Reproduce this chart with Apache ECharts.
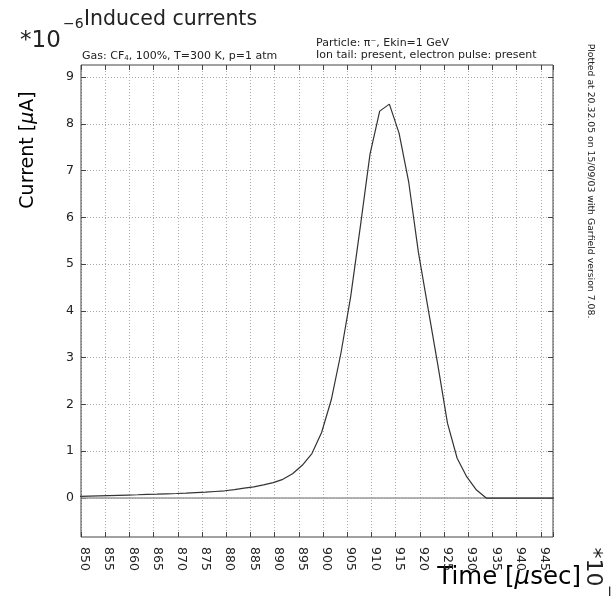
<!DOCTYPE html>
<html>
<head>
<meta charset="utf-8">
<script src="https://cdn.jsdelivr.net/npm/echarts@6/dist/echarts.min.js"></script>
<style>
html,body{margin:0;padding:0;background:#fff;}
#chart{width:616px;height:598px;}
</style>
</head>
<body>
<div id="chart"></div>
<script>
// ---- data ----
const timeValues = [849,851,853,855,857,859,861,863,865,867,869,871,873,875,877,879,881,883,885,887,889,891,893,895,897,899,901,903,905,907,909,911,913,915,917,919,921,923,925,927,929,931,933,935,937,939,941,943,945,947];
const currentValues = [0.033,0.04,0.046,0.052,0.058,0.064,0.07,0.077,0.083,0.09,0.097,0.105,0.115,0.125,0.14,0.155,0.18,0.21,0.24,0.28,0.33,0.4,0.52,0.7,0.95,1.4,2.1,3.1,4.3,5.8,7.35,8.27,8.42,7.8,6.75,5.25,4.05,2.85,1.6,0.85,0.45,0.17,0,0,0,0,0,0,0,0];
const xTickLabels = [850,855,860,865,870,875,880,885,890,895,900,905,910,915,920,925,930,935,940,945];
const yTickLabels = [0,1,2,3,4,5,6,7,8,9];

// ---- layout ----
const FONT = 'DejaVu Sans';
const XMIN = 849.3, XMAX = 946.8;
const YMIN = -0.833, YMAX = 9.256;
const frame = {left: 81, top: 65, width: 472, height: 472};
const pxPerX = frame.width / (XMAX - XMIN);
const pxPerY = frame.height / (YMAX - YMIN);

const points = timeValues.map((t, i) => [t, currentValues[i]]);

const chart = echarts.init(document.getElementById('chart'), null, {renderer: 'canvas'});

const tickStyle = {color: '#444', width: 1};
const dotted = {color: '#a8a8a8', width: 1, type: [1, 2]};

const option = {
  animation: false,
  backgroundColor: '#fff',
  grid: [
    {left: frame.left, top: frame.top, width: frame.width, height: frame.height, show: true, borderColor: '#444', borderWidth: 1, backgroundColor: 'transparent', z: 5},
    {left: frame.left, top: frame.top + (YMAX - yTickLabels[yTickLabels.length-1]) * pxPerY, width: frame.width,
     height: (yTickLabels[yTickLabels.length-1] - yTickLabels[0]) * pxPerY},
    {left: frame.left + (xTickLabels[0] - XMIN) * pxPerX, top: frame.top,
     width: (xTickLabels[xTickLabels.length-1] - xTickLabels[0]) * pxPerX, height: frame.height}
  ],
  xAxis: [
    {gridIndex: 0, type: 'value', min: XMIN, max: XMAX, show: false},
    {gridIndex: 0, type: 'value', position: 'bottom', min: 845, max: 845 + (XMAX - XMIN), interval: 5,
     axisLine: {show: false}, axisTick: {show: true, inside: true, length: 5, lineStyle: tickStyle},
     axisLabel: {show: false}, splitLine: {show: true, lineStyle: dotted}},
    {gridIndex: 0, type: 'value', position: 'top', min: 845, max: 845 + (XMAX - XMIN), interval: 5,
     axisLine: {show: false}, axisTick: {show: true, inside: true, length: 5, lineStyle: tickStyle},
     axisLabel: {show: false}, splitLine: {show: false}},
    {gridIndex: 2, type: 'value', position: 'bottom', min: xTickLabels[0], max: xTickLabels[xTickLabels.length-1], interval: 5,
     axisLine: {show: false}, axisTick: {show: false}, splitLine: {show: false},
     axisLabel: {show: true, rotate: -90, margin: 10, fontSize: 12.5, fontFamily: FONT, color: '#222'}},
    {gridIndex: 1, type: 'value', min: 0, max: 1, show: false}
  ],
  yAxis: [
    {gridIndex: 0, type: 'value', min: YMIN, max: YMAX, show: false},
    {gridIndex: 1, type: 'value', position: 'left', min: yTickLabels[0], max: yTickLabels[yTickLabels.length-1], interval: 1,
     axisLine: {show: false}, axisTick: {show: true, inside: true, length: 5, lineStyle: tickStyle},
     axisLabel: {show: true, margin: 7, fontSize: 12.5, fontFamily: FONT, color: '#222'},
     splitLine: {show: true, lineStyle: dotted}},
    {gridIndex: 1, type: 'value', position: 'right', min: yTickLabels[0], max: yTickLabels[yTickLabels.length-1], interval: 1,
     axisLine: {show: false}, axisTick: {show: true, inside: true, length: 5, lineStyle: tickStyle},
     axisLabel: {show: false}, splitLine: {show: false}},
    {gridIndex: 2, type: 'value', min: 0, max: 1, show: false}
  ],
  series: [
    {type: 'line', xAxisIndex: 0, yAxisIndex: 0, data: [[XMIN, 0], [XMAX, 0]], symbol: 'none', silent: true,
     lineStyle: {color: '#9a9a9a', width: 1.6}, z: 2},
    {type: 'line', xAxisIndex: 0, yAxisIndex: 0, data: points, symbol: 'none', silent: true,
     lineStyle: {color: '#333', width: 1.2}, z: 3}
  ],
  graphic: [
    {type: 'text', x: 20, y: 53, style: {text: '*10', font: '23px "' + FONT + '"', fill: '#222', align: 'left', verticalAlign: 'bottom', textAlign: 'left', textVerticalAlign: 'bottom'}},
    {type: 'text', x: 63, y: 31, style: {text: '\u22126', font: '14px "' + FONT + '"', fill: '#222', align: 'left', verticalAlign: 'bottom', textAlign: 'left', textVerticalAlign: 'bottom'}},
    {type: 'text', x: 84, y: 30, style: {text: 'Induced currents', font: '20.5px "' + FONT + '"', fill: '#222', align: 'left', verticalAlign: 'bottom', textAlign: 'left', textVerticalAlign: 'bottom'}},
    {type: 'text', x: 82, y: 56, style: {
      text: '{a|Gas: CF}{s|4}{a|, 100%, T=300 K, p=1 atm}', fill: '#222', align: 'left', verticalAlign: 'middle', textAlign: 'left', textVerticalAlign: 'middle',
      rich: {a: {fontSize: 11, fontFamily: FONT, fill: '#222', color: '#222'}, s: {fontSize: 7, fontFamily: FONT, color: '#222', padding: [4, 0, 0, 0]}}}},
    {type: 'text', x: 316, y: 43, style: {text: 'Particle: \u03c0\u207b, Ekin=1 GeV', font: '11px "' + FONT + '"', fill: '#222', align: 'left', verticalAlign: 'middle', textAlign: 'left', textVerticalAlign: 'middle'}},
    {type: 'text', x: 316, y: 55, style: {text: 'Ion tail: present, electron pulse: present', font: '11px "' + FONT + '"', fill: '#222', align: 'left', verticalAlign: 'middle', textAlign: 'left', textVerticalAlign: 'middle'}},
    {type: 'text', x: 28, y: 150, rotation: Math.PI / 2, style: {
      text: '{a|Current [}{m|\u03bc}{a|A]}', align: 'center', verticalAlign: 'middle', textAlign: 'center', textVerticalAlign: 'middle',
      rich: {a: {fontSize: 19, fontFamily: FONT, color: '#222'}, m: {fontSize: 19, fontFamily: FONT, fontStyle: 'italic', color: '#222'}}}},
    {type: 'text', x: 581, y: 578, style: {
      text: '{a|Time [}{m|\u03bc}{a|sec]}', align: 'right', verticalAlign: 'middle', textAlign: 'right', textVerticalAlign: 'middle',
      rich: {a: {fontSize: 24.5, fontFamily: FONT, color: '#222'}, m: {fontSize: 24.5, fontFamily: FONT, fontStyle: 'italic', color: '#222'}}}},
    {type: 'text', x: 593, y: 567, rotation: -Math.PI / 2, style: {text: '*10', font: '22px "' + FONT + '"', fill: '#222', align: 'center', verticalAlign: 'middle', textAlign: 'center', textVerticalAlign: 'middle'}},
    {type: 'text', x: 609, y: 596, rotation: -Math.PI / 2, style: {text: '\u22123', font: '15px "' + FONT + '"', fill: '#222', align: 'center', verticalAlign: 'middle', textAlign: 'center', textVerticalAlign: 'middle'}},
    {type: 'text', x: 590, y: 181, rotation: -Math.PI / 2, style: {text: 'Plotted at 20.32.05 on 15/09/03 with Garfield version 7.08.', font: '9.3px "' + FONT + '"', fill: '#222', align: 'center', verticalAlign: 'middle', textAlign: 'center', textVerticalAlign: 'middle'}}
  ]
};

chart.setOption(option);
</script>
</body>
</html>
